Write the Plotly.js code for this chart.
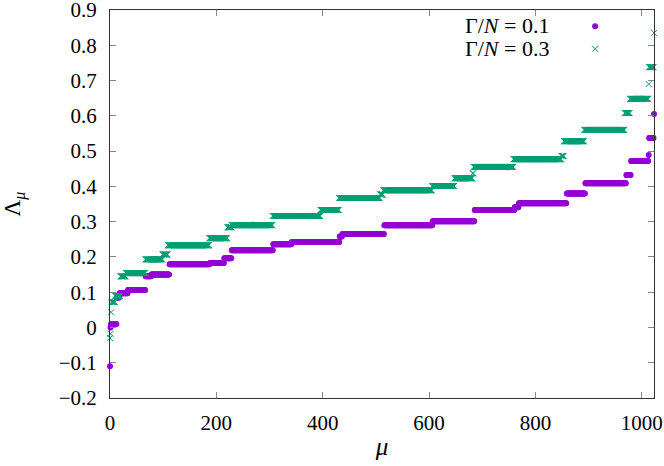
<!DOCTYPE html>
<html>
<head>
<meta charset="utf-8">
<script src="https://cdn.plot.ly/plotly-3.0.1.min.js"></script>
<style>
  html, body { margin: 0; padding: 0; background: #fff; }
  #plot { width: 664px; height: 466px; }
</style>
</head>
<body>
<div id="plot"></div>
<script>
// plateaus: first mu of each step and its value (step runs to the next start - 1)
const muLast = 1023;

const purpleStart = [0, 1, 2, 13, 18, 34, 67, 78, 112, 188, 215, 229, 307, 342, 432, 437, 516, 607, 686, 761, 769, 859, 894, 971, 980, 1013, 1014, 1023];
const purpleValue = [-0.11, 0.0, 0.01, 0.085, 0.097, 0.106, 0.145, 0.150, 0.179, 0.183, 0.196, 0.219, 0.236, 0.242, 0.258, 0.265, 0.290, 0.301, 0.333, 0.341, 0.352, 0.380, 0.409, 0.432, 0.472, 0.489, 0.537, 0.605];

const greenStart = [0, 1, 2, 3, 10, 20, 30, 67, 99, 109, 187, 221, 229, 306, 396, 431, 508, 514, 606, 648, 682, 684, 759, 849, 854, 892, 968, 978, 1013, 1014, 1023];
const greenValue = [-0.03, -0.018, 0.043, 0.072, 0.089, 0.145, 0.154, 0.193, 0.207, 0.233, 0.253, 0.284, 0.290, 0.316, 0.333, 0.367, 0.377, 0.389, 0.401, 0.423, 0.437, 0.455, 0.477, 0.486, 0.528, 0.560, 0.608, 0.648, 0.690, 0.738, 0.835];

const xTicks = [0, 200, 400, 600, 800, 1000];
const yTicks = [-0.2, -0.1, 0, 0.1, 0.2, 0.3, 0.4, 0.5, 0.6, 0.7, 0.8, 0.9];
const yTickText = ['\u22120.2', '\u22120.1', '0', '0.1', '0.2', '0.3', '0.4', '0.5', '0.6', '0.7', '0.8', '0.9'];

const legendLabels = ["Γ/<i>N</i> = 0.1", "Γ/<i>N</i> = 0.3"];

function expandSteps(starts, values) {
    let x = [], y = [];
    for (let i = 0; i < starts.length; i++) {
        let end = (i + 1 < starts.length) ? starts[i + 1] - 1 : muLast;
        for (let mu = starts[i]; mu <= end; mu++) {
            x.push(mu);
            y.push(values[i]);
        }
    }
    return { x: x, y: y };
}

let p = expandSteps(purpleStart, purpleValue);
let g = expandSteps(greenStart, greenValue);

let tracePurple = {
    x: p.x, y: p.y,
    mode: 'markers',
    type: 'scatter',
    name: ' ',
    cliponaxis: false,
    marker: { symbol: 'circle', size: 6, color: '#9400d3', line: { width: 0 } }
};

let traceGreen = {
    x: g.x, y: g.y,
    mode: 'markers',
    type: 'scatter',
    name: ' ',
    cliponaxis: false,
    marker: { symbol: 'x-thin-open', size: 6, color: '#009e73', line: { width: 1, color: '#009e73' } }
};

const serif = 'Liberation Serif';

function axisBase() {
    return {
        ticks: 'inside',
        ticklen: 6,
        tickwidth: 1,
        tickcolor: '#888',
        showline: true,
        linecolor: '#333',
        linewidth: 1,
        mirror: 'ticks',
        showgrid: false,
        zeroline: false,
        ticklabeloverflow: 'allow',
        tickfont: { family: serif, size: 21, color: '#000' }
    };
}

let layout = {
    width: 664,
    height: 466,
    margin: { l: 110, r: 10, t: 10, b: 68 },
    font: { family: serif, size: 21, color: '#000' },
    paper_bgcolor: '#fff',
    plot_bgcolor: '#fff',
    showlegend: true,
    legend: {
        x: 0.855, y: 1.0, xanchor: 'left', yanchor: 'top',
        bgcolor: 'rgba(0,0,0,0)',
        font: { family: serif, size: 15, color: '#000' },
        tracegroupgap: 0
    },
    xaxis: Object.assign(axisBase(), {
        range: [0, muLast],
        tickmode: 'array', tickvals: xTicks,
        ticklabelstandoff: 6,
        title: { text: '<i>μ</i>', font: { family: serif, size: 25, color: '#000' }, standoff: 3 }
    }),
    yaxis: Object.assign(axisBase(), {
        range: [-0.2, 0.9],
        tickmode: 'array', tickvals: yTicks, ticktext: yTickText,
        ticklabelstandoff: 8,
        title: { text: 'Λ<sub><i>μ</i></sub>', font: { family: serif, size: 23, color: '#000' }, standoff: 50 }
    }),
    annotations: [
        { xref: 'paper', yref: 'paper', x: 0.81, y: 0.961, xanchor: 'right', yanchor: 'middle', showarrow: false,
          text: legendLabels[0], font: { family: serif, size: 22, color: '#000' } },
        { xref: 'paper', yref: 'paper', x: 0.81, y: 0.902, xanchor: 'right', yanchor: 'middle', showarrow: false,
          text: legendLabels[1], font: { family: serif, size: 22, color: '#000' } }
    ]
};

Plotly.newPlot('plot', [tracePurple, traceGreen], layout, { displayModeBar: false, staticPlot: true });
</script>
</body>
</html>
